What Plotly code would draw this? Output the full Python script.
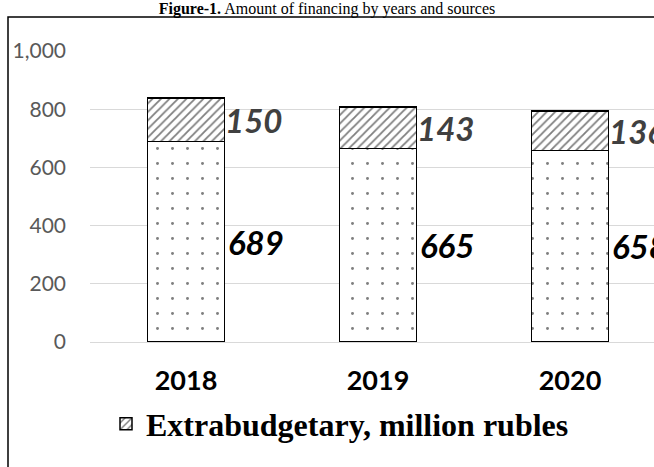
import plotly.graph_objects as go

years = ["2018", "2019", "2020"]
budget = [689, 665, 658]
extra = [150, 143, 136]
y_ticks = [0, 200, 400, 600, 800, 1000]

W, H = 654, 467
L, R, T, B = 90, 0, 51, 125
pw = W - L - R
ph = H - T - B
cat_px = 192

fig = go.Figure()
fig.add_trace(go.Bar(
    x=years, y=budget, name="Budget, million rubles", showlegend=False,
    width=0.40,
    marker=dict(color="white", line=dict(color="black", width=1.5),
                pattern=dict(shape=".", fgcolor="black", bgcolor="white",
                             size=15, solidity=0.03)),
))
fig.add_trace(go.Bar(
    x=years, y=extra, name="Extrabudgetary, million rubles",
    width=0.40,
    marker=dict(color="white", line=dict(color="black", width=1.5),
                pattern=dict(shape="/", fgcolor="black", bgcolor="white",
                             size=6, solidity=0.3)),
))

ann = []
for i in range(len(years)):
    ann.append(dict(x=i, y=budget[i] / 2, xref="x", yref="y", text=f"<b><i>{budget[i]}</i></b>",
                    showarrow=False, xanchor="left", yanchor="middle", xshift=40,
                    font=dict(family="Lato", size=33, color="black")))
    ann.append(dict(x=i, y=budget[i] + extra[i] / 2, xref="x", yref="y",
                    text=f"<b><i>{extra[i]}</i></b>",
                    showarrow=False, xanchor="left", yanchor="middle", xshift=37,
                    font=dict(family="Lato", size=33, color="#404040")))

fig.update_layout(
    width=W, height=H,
    margin=dict(l=L, r=R, t=T, b=B, pad=0, autoexpand=False),
    barmode="stack",
    plot_bgcolor="white", paper_bgcolor="white",
    title=dict(text="<b>Figure-1.</b> Amount of financing by years and sources",
               xref="container", x=0.5, xanchor="center",
               yref="container", y=1 - 8 / H, yanchor="middle",
               font=dict(family="Liberation Serif", size=16, color="black")),
    xaxis=dict(type="category", range=[-0.5, -0.5 + pw / cat_px], showgrid=False,
               showline=False, ticks="",
               tickfont=dict(family="Lato", size=27, color="black", weight="bold"),
               ticklabelstandoff=20, fixedrange=True, automargin=False),
    yaxis=dict(range=[0, 1000], tickvals=y_ticks, tickformat=",",
               showgrid=True, gridcolor="#d9d9d9", gridwidth=1,
               zeroline=True, zerolinecolor="#d9d9d9", zerolinewidth=1,
               showline=False, ticks="", automargin=False,
               tickfont=dict(family="Lato", size=21, color="#595959"),
               ticklabelstandoff=23),
    legend=dict(orientation="h", xref="container", yref="container",
                x=106 / W, xanchor="left", y=1 - 424 / H, yanchor="middle",
                font=dict(family="Liberation Serif", size=32, color="black", weight="bold"),
                itemwidth=30, bgcolor="rgba(0,0,0,0)"),
    annotations=ann,
    shapes=[dict(type="rect", xref="paper", yref="paper",
                 x0=(8 - L) / pw, x1=1.2, y0=-0.6, y1=(H - B - 17) / ph,
                 line=dict(color="black", width=1.5), fillcolor="rgba(0,0,0,0)",
                 layer="above")],
)

fig.write_html("out.html")
